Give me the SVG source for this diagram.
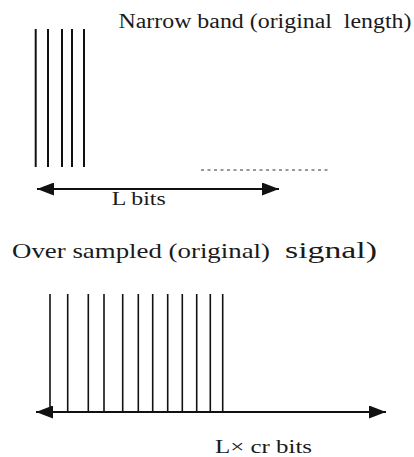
<svg xmlns="http://www.w3.org/2000/svg" width="414" height="457" viewBox="0 0 414 457">
<defs>
<style>
text{fill:#1a1a1a;white-space:pre}
.bar{stroke:#111;stroke-width:2}
.bar2{stroke:#111;stroke-width:1.6}
.ax{stroke:#111;stroke-width:2;fill:none}
.dot{stroke:#333;stroke-width:1.2;stroke-dasharray:3 3.5;fill:none}
</style>
<marker id="ah" viewBox="0 0 17 13" refX="17" refY="6.5" markerWidth="17" markerHeight="13" markerUnits="userSpaceOnUse" orient="auto-start-reverse">
<path d="M0,0 L17,6.5 L0,13 Z" fill="#111"/>
</marker>
</defs>
<rect width="414" height="457" fill="#fff"/>
<g id="title-top" font-family="'Liberation Serif', 'DejaVu Serif', serif">
<text x="118.5" y="28" font-size="20.5" textLength="293" lengthAdjust="spacingAndGlyphs">Narrow band (original  length)</text>
</g>
<g id="narrow-band">
<line class="bar" x1="35.7" y1="29" x2="35.7" y2="167"/>
<line class="bar" x1="48" y1="29" x2="48" y2="167"/>
<line class="bar" x1="62" y1="29" x2="62" y2="167"/>
<line class="bar" x1="72" y1="29" x2="72" y2="167"/>
<line class="bar" x1="84" y1="29" x2="84" y2="167"/>
<line class="dot" x1="201" y1="170" x2="331" y2="170"/>
</g>
<g id="label-L" font-family="'Liberation Serif', 'DejaVu Serif', serif">
<text x="111.7" y="205" font-size="19" textLength="54" lengthAdjust="spacingAndGlyphs">L bits</text>
</g>
<g id="title-bottom" font-family="'Liberation Serif', 'DejaVu Serif', serif">
<text x="12" y="257.5" font-size="22" textLength="258" lengthAdjust="spacingAndGlyphs">Over sampled (original)</text>
<text x="285" y="257.5" font-size="24" textLength="92" lengthAdjust="spacingAndGlyphs">signal)</text>
</g>
<g id="oversampled">
<line class="bar2" x1="50" y1="294" x2="50" y2="412"/>
<line class="bar2" x1="67.7" y1="294" x2="67.7" y2="412"/>
<line class="bar2" x1="88.3" y1="294" x2="88.3" y2="412"/>
<line class="bar2" x1="104" y1="294" x2="104" y2="412"/>
<line class="bar2" x1="122.7" y1="294" x2="122.7" y2="412"/>
<line class="bar2" x1="138.3" y1="294" x2="138.3" y2="412"/>
<line class="bar2" x1="152.7" y1="294" x2="152.7" y2="412"/>
<line class="bar2" x1="167.7" y1="294" x2="167.7" y2="412"/>
<line class="bar2" x1="182.3" y1="294" x2="182.3" y2="412"/>
<line class="bar2" x1="196.7" y1="294" x2="196.7" y2="412"/>
<line class="bar2" x1="210.3" y1="294" x2="210.3" y2="412"/>
<line class="bar2" x1="222.7" y1="294" x2="222.7" y2="412"/>
</g>
<g id="label-Lcr" font-family="'Liberation Serif', 'DejaVu Serif', serif">
<text x="215" y="452.5" font-size="19" textLength="97" lengthAdjust="spacingAndGlyphs">L× cr bits</text>
</g>
<g id="connectors">
<line class="ax" x1="37" y1="189" x2="279" y2="189" marker-start="url(#ah)" marker-end="url(#ah)"/>
<line class="ax" x1="36" y1="412" x2="386" y2="412" marker-start="url(#ah)" marker-end="url(#ah)"/>
</g>
</svg>
